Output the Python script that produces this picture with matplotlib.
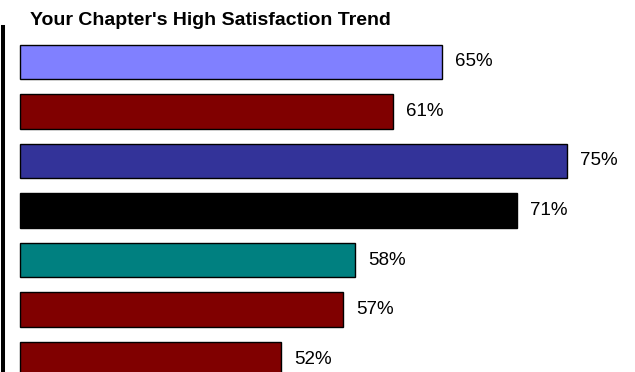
import matplotlib
matplotlib.use('Agg')
import matplotlib.pyplot as plt

# --- Data ---
TITLE = "Your Chapter's High Satisfaction Trend"
values = [65, 61, 75, 71, 58, 57, 52]
labels = ['65%', '61%', '75%', '71%', '58%', '57%', '52%']
colors = ['#8080FF', '#800000', '#333399', '#000000', '#008080', '#800000', '#800000']
BASE = 31  # value where the bars start

plt.rcParams['font.family'] = ['Liberation Sans', 'DejaVu Sans']

fig = plt.figure(figsize=(6.35, 3.72), dpi=100)
ax = fig.add_axes([0, 0, 1, 1])

ypos = list(range(len(values)))
widths = [v - BASE for v in values]
ax.barh(ypos, widths, left=BASE, height=0.69, color=colors,
        edgecolor='black', linewidth=1.0)

for y, v, lab in zip(ypos, values, labels):
    ax.text(v + 1.05, y, lab, va='center', ha='left', fontsize=13.5)

ax.set_xlim(29.4, 80.5)
ax.set_ylim(6.2626, -1.2525)
ax.axis('off')

# thick black rule down the left side
fig.add_artist(plt.Line2D([3 / 635, 3 / 635], [0, 1 - 27 / 372],
                          color='black', linewidth=2.9,
                          transform=fig.transFigure))

fig.text(30 / 635, 1 - 25 / 372, TITLE, fontsize=14, fontweight='bold',
         va='baseline', ha='left')

fig.savefig('out.png', dpi=100)
